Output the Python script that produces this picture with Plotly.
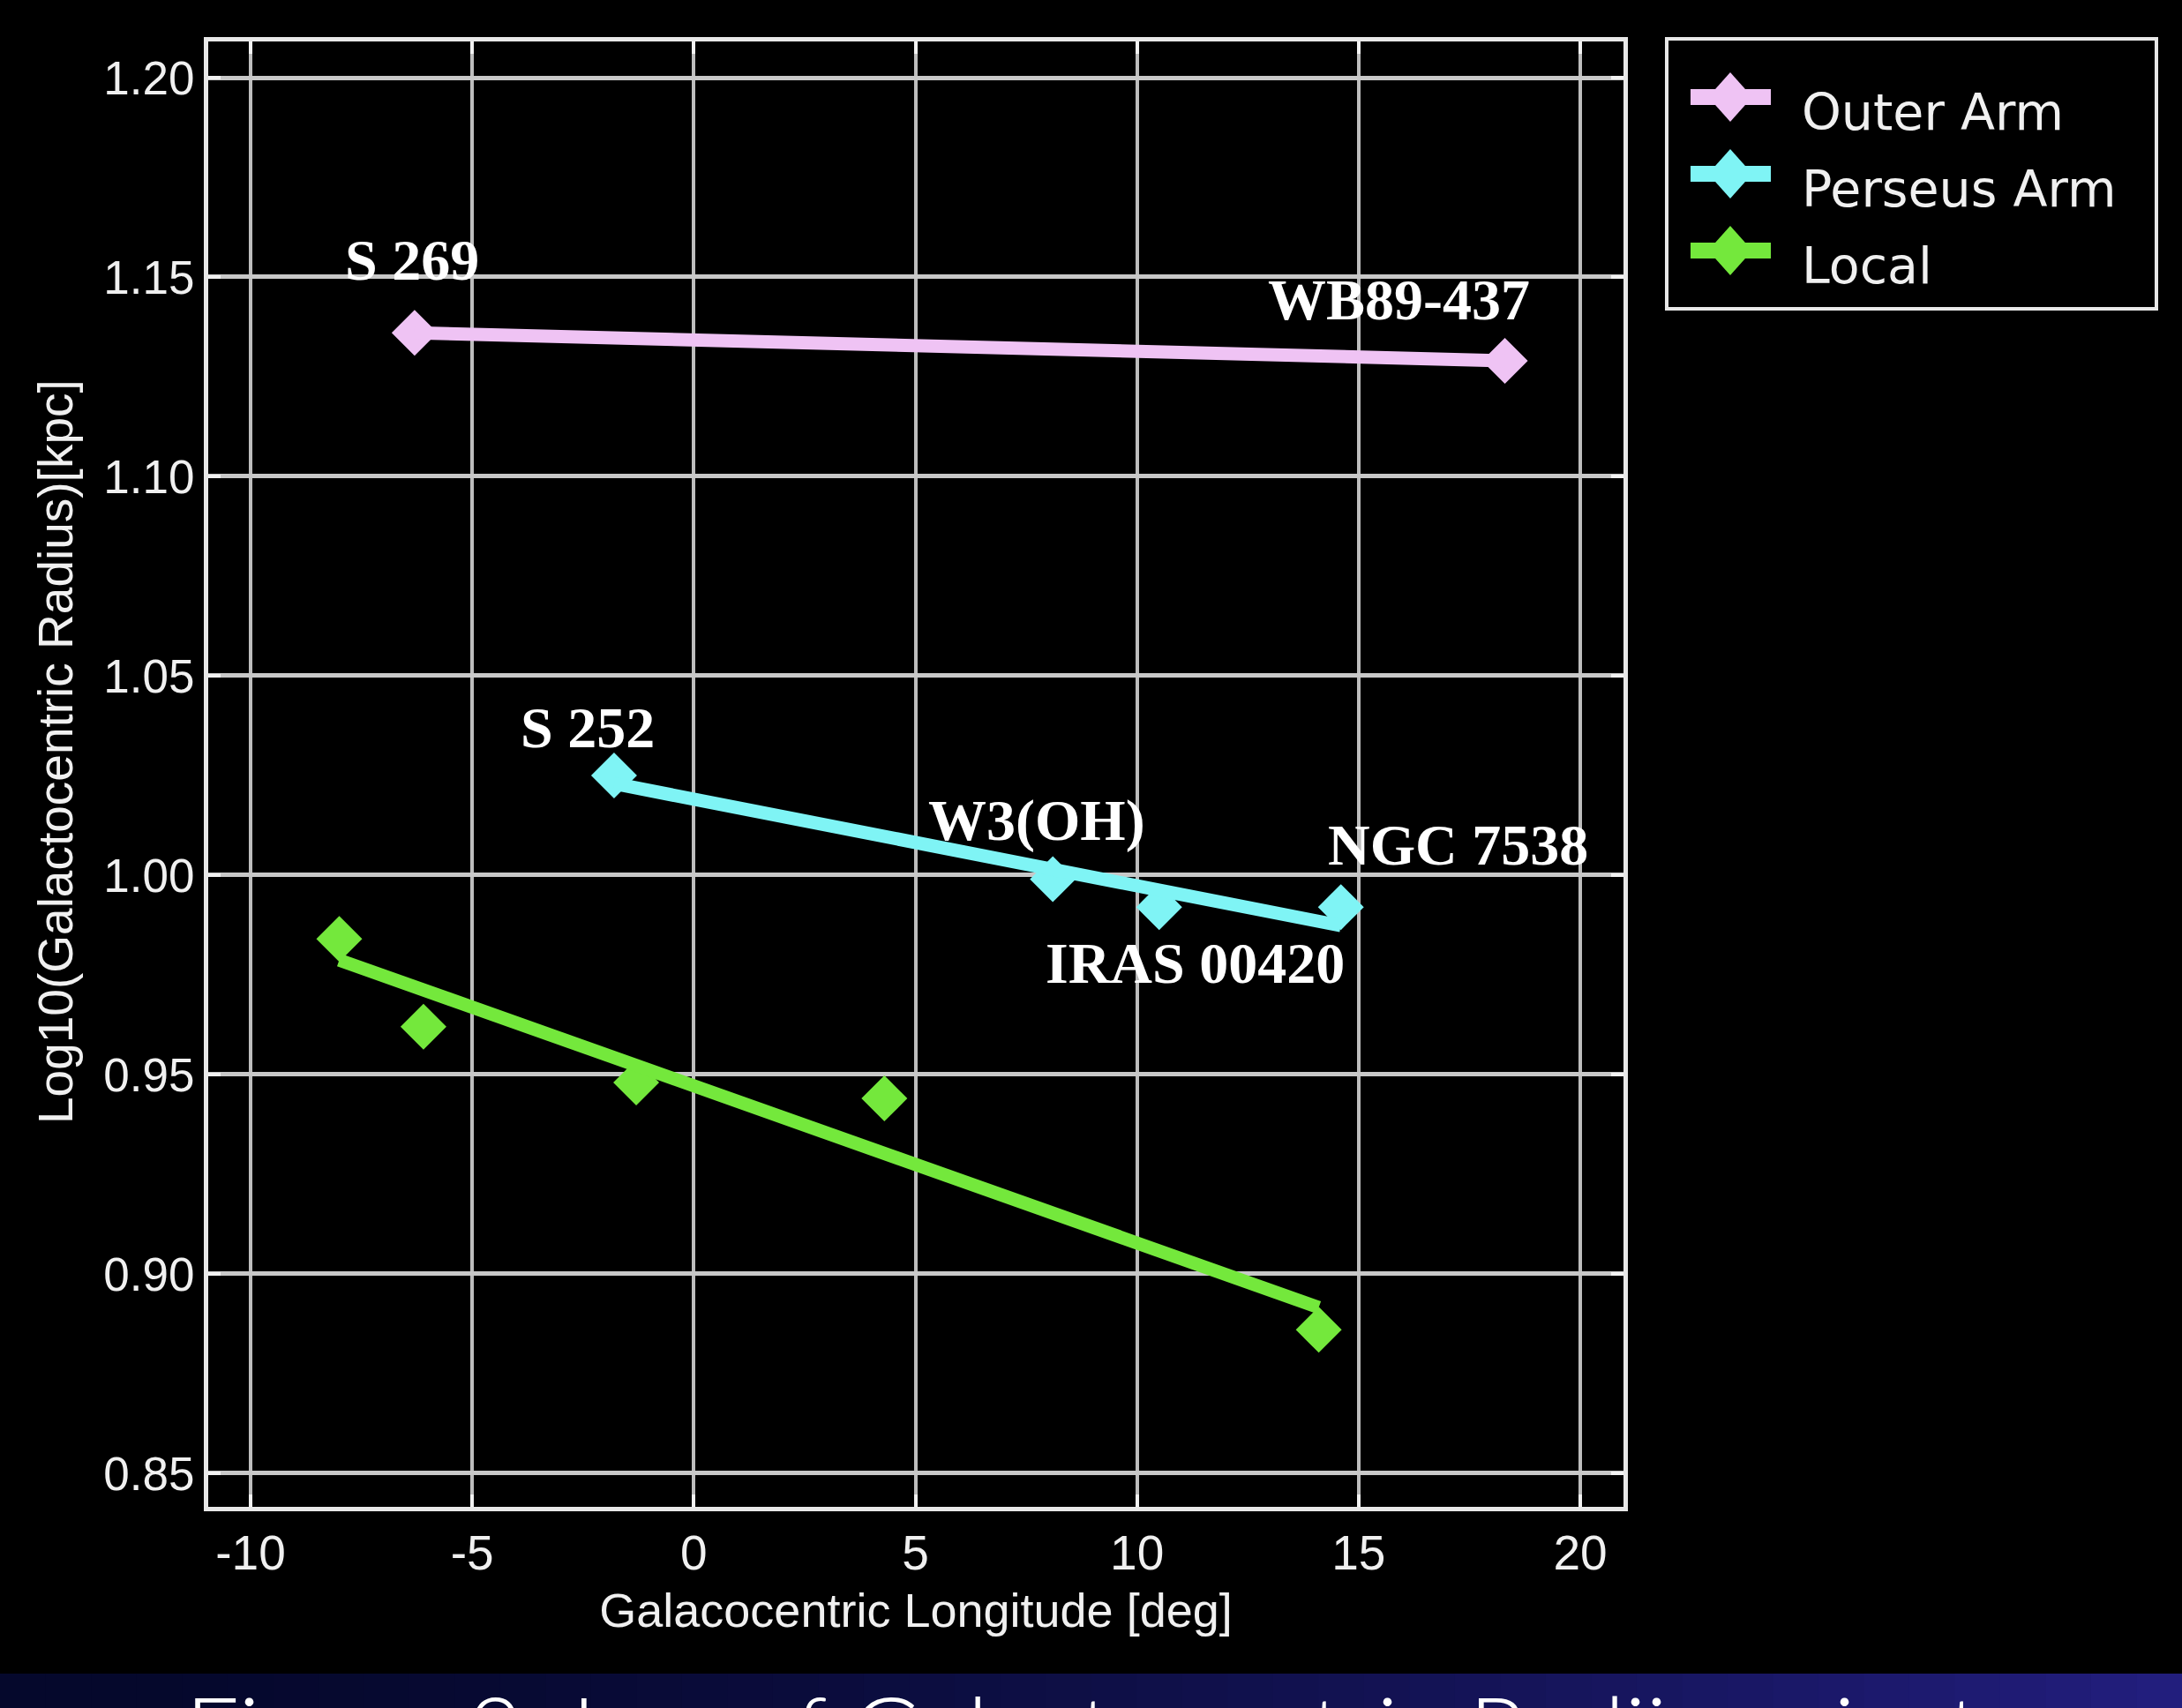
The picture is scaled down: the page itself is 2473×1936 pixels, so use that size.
import numpy as np
import plotly.graph_objects as go

# ---- data: galactocentric longitude [deg] vs log10(galactocentric radius / kpc)
outer_lon = [-6.3, 18.3]
outer_logr = [1.136, 1.129]
outer_names = ["S 269", "WB89-437"]

perseus_lon = [-1.8, 8.1, 10.5, 14.6]
perseus_logr = [1.025, 0.999, 0.992, 0.992]
perseus_names = ["S 252", "W3(OH)", "IRAS 00420", "NGC 7538"]

local_lon = [-8.0, -6.1, -1.3, 4.3, 14.1]
local_logr = [0.984, 0.962, 0.948, 0.944, 0.886]

series_names = ["Outer Arm", "Perseus Arm", "Local"]
y_ticks = [0.85, 0.90, 0.95, 1.00, 1.05, 1.10, 1.15, 1.20]
x_ticks = [-10, -5, 0, 5, 10, 15, 20]
x_tick_text = ["-10", "-5", "0", "5", "10", "15", "20"]
caption = "Figure 2: Log of Galactocentric Radii against"

# ---- styling / layout constants (pixels)
colors = ["#efc3f4", "#7ff4f5", "#74e83c"]
label_offsets = {  # (xshift, yshift) relative to the labelled point
    "S 269": (-3, 83),
    "WB89-437": (-120, 69),
    "S 252": (-30, 54),
    "W3(OH)": (-18, 67),
    "IRAS 00420": (41, -63),
    "NGC 7538": (133, 71),
}
W, H = 2473, 1936
L, R, T, B = 236, 633, 47, 228
PW, PH = W - L - R, H - T - B


def px_x(p):
    return (p - L) / PW


def px_y(p):
    return (H - B - p) / PH


fig = go.Figure()

groups = [
    (outer_lon, outer_logr),
    (perseus_lon, perseus_logr),
    (local_lon, local_logr),
]

for (lon, logr), name, col in zip(groups, series_names, colors):
    # measured points
    fig.add_trace(go.Scatter(
        x=lon, y=logr, mode="markers", name=name, showlegend=False,
        marker=dict(symbol="diamond", size=40, color=col, line=dict(width=0)),
        hoverinfo="x+y+name",
    ))

for (lon, logr), name, col in zip(groups, series_names, colors):
    # least-squares linear trend across the span of each arm
    slope, icept = np.polyfit(lon, logr, 1)
    xs = np.array([min(lon), max(lon)])
    fig.add_trace(go.Scatter(
        x=xs, y=slope * xs + icept, mode="lines", name=name + " fit",
        showlegend=False, line=dict(color=col, width=15), hoverinfo="skip",
    ))

# point labels
annotations = []
for lon, logr, names in [(outer_lon, outer_logr, outer_names),
                         (perseus_lon, perseus_logr, perseus_names)]:
    for xv, yv, nm in zip(lon, logr, names):
        dx, dy = label_offsets[nm]
        annotations.append(dict(
            x=xv, y=yv, xref="x", yref="y", text=f"<b>{nm}</b>",
            showarrow=False, xshift=dx, yshift=dy,
            font=dict(family="Liberation Serif", size=66, color="#ffffff"),
        ))

shapes = []

# ---- key box (line + diamond glyph per arm)
key_left, key_right, key_top, key_bottom = 1889, 2444, 44, 350
row_y0, row_step = 110, 87
shapes.append(dict(
    type="rect", xref="paper", yref="paper",
    x0=px_x(key_left), x1=px_x(key_right), y0=px_y(key_bottom), y1=px_y(key_top),
    line=dict(color="#e8e8e8", width=4), fillcolor="#000000", layer="above",
))
for i, (name, col) in enumerate(zip(series_names, colors)):
    ry = row_y0 + i * row_step
    shapes.append(dict(
        type="line", xref="paper", yref="paper",
        x0=px_x(1916), x1=px_x(2007), y0=px_y(ry), y1=px_y(ry),
        line=dict(color=col, width=18), layer="above",
    ))
    shapes.append(dict(
        type="path", xref="paper", yref="paper",
        xsizemode="pixel", ysizemode="pixel",
        xanchor=px_x(1961), yanchor=px_y(ry),
        path="M0,28 L25,0 L0,-28 L-25,0 Z",
        fillcolor=col, line=dict(width=0), layer="above",
    ))
    annotations.append(dict(
        x=px_x(2040), y=px_y(ry + 17), xref="paper", yref="paper",
        xanchor="left", yanchor="middle", text=name, showarrow=False,
        font=dict(family="DejaVu Sans", size=57, color="#f0f0f0"),
    ))

# ---- caption band along the bottom edge
band_top = 1897
n_steps = 48
c0 = np.array([5, 8, 44])
c1 = np.array([34, 30, 125])
for i in range(n_steps):
    t = i / (n_steps - 1)
    c = (c0 + (c1 - c0) * t ** 1.6).astype(int)
    shapes.append(dict(
        type="rect", xref="paper", yref="paper",
        x0=px_x(i * W / n_steps), x1=px_x((i + 1) * W / n_steps + 1),
        y0=px_y(H), y1=px_y(band_top),
        fillcolor=f"rgb({c[0]},{c[1]},{c[2]})", line=dict(width=0), layer="below",
    ))

annotations.append(dict(
    x=px_x(208), y=px_y(1893), xref="paper", yref="paper",
    xanchor="left", yanchor="top", text=caption, showarrow=False,
    font=dict(family="Lato", size=108, color="#ffffff", weight=300),
))

# y-axis title
annotations.append(dict(
    x=px_x(63), y=px_y(852), xref="paper", yref="paper",
    xanchor="center", yanchor="middle", textangle=-90,
    text="Log10(Galactocentric Radius)[kpc]", showarrow=False,
    font=dict(family="Liberation Sans", size=55, color="#f0f0f0"),
))

axis_common = dict(
    showgrid=True, zeroline=False, showline=True, linecolor="#e8e8e8",
    linewidth=5, mirror="allticks", ticks="inside", ticklen=14,
    tickcolor="#f2f2f2", tickwidth=4,
)

fig.update_layout(
    width=W, height=H,
    margin=dict(l=L, r=R, t=T, b=B, pad=0),
    paper_bgcolor="#000000", plot_bgcolor="#000000",
    xaxis=dict(
        range=[-10.956, 20.976], tickvals=x_ticks, ticktext=x_tick_text,
        gridcolor="#bdbdbd", gridwidth=3.5,
        tickfont=dict(family="Liberation Sans", size=55, color="#f0f0f0"),
        title=dict(text="Galacocentric Longitude [deg]", standoff=18,
                   font=dict(family="Liberation Sans", size=54, color="#f0f0f0")),
        **axis_common,
    ),
    yaxis=dict(
        range=[0.84159, 1.20907], tickvals=y_ticks, tickformat=".2f",
        gridcolor="#c8c8c8", gridwidth=5,
        tickfont=dict(family="Liberation Sans", size=53, color="#f0f0f0"),
        **axis_common,
    ),
    shapes=shapes,
    annotations=annotations,
    showlegend=False,
)

fig.write_html("out.html")
